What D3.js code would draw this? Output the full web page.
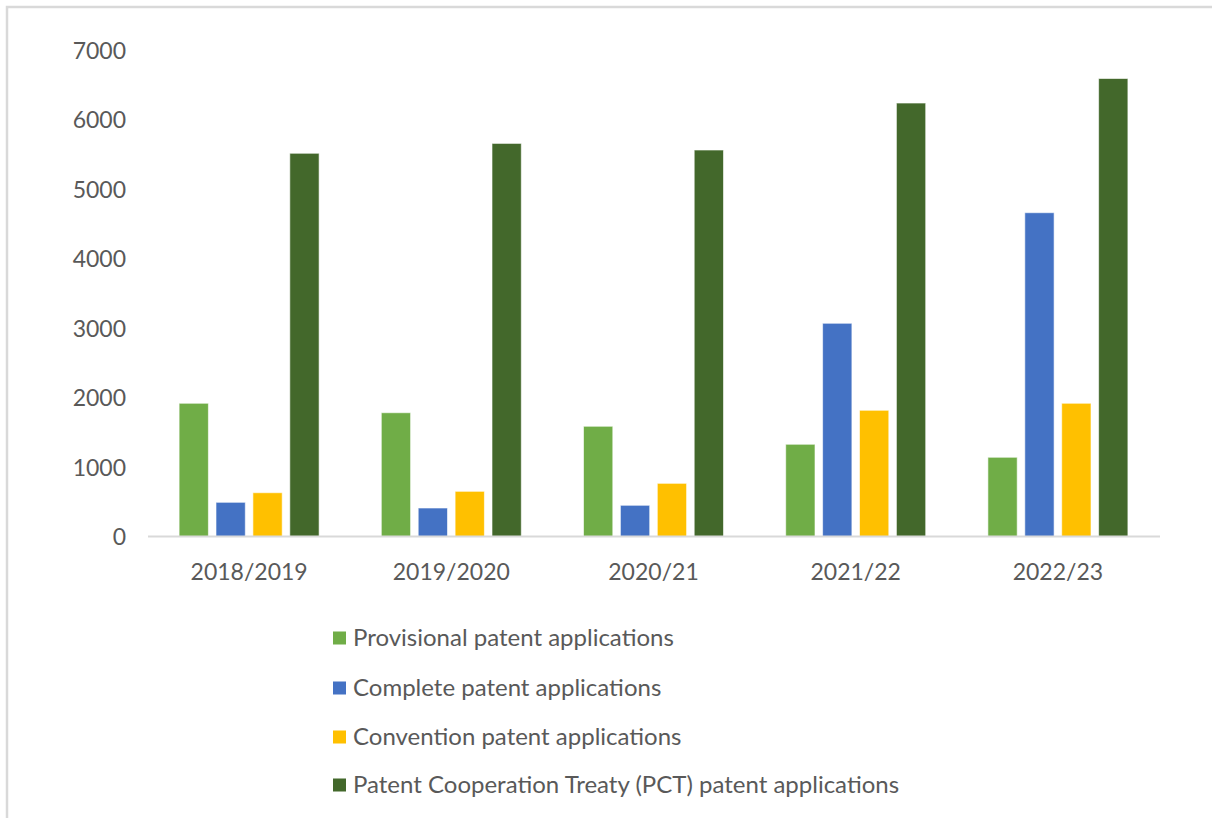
<!DOCTYPE html>
<html>
<head>
<meta charset="utf-8">
<script src="https://cdn.jsdelivr.net/npm/d3@7/dist/d3.min.js"></script>
<style>
  html, body { margin: 0; padding: 0; background: #fff; }
  svg { display: block; }
  text { font-family: Lato, "Open Sans", sans-serif; fill: #595959; }
</style>
</head>
<body>
<svg id="chart" width="1212" height="818"></svg>
<script>
const categories = ["2018/2019", "2019/2020", "2020/21", "2021/22", "2022/23"];
const seriesNames = [
  "Provisional patent applications",
  "Complete patent applications",
  "Convention patent applications",
  "Patent Cooperation Treaty (PCT) patent applications"
];
const provisional = [1917, 1781, 1586, 1327, 1140];
const complete    = [492, 410, 449, 3068, 4659];
const convention  = [630, 650, 765, 1816, 1917];
const pct         = [5514, 5656, 5561, 6237, 6590];
const yTicks = [0, 1000, 2000, 3000, 4000, 5000, 6000, 7000];
const colors = ["#70AD47", "#4472C4", "#FFC000", "#43682B"];

const seriesValues = [provisional, complete, convention, pct];

const svg = d3.select("#chart");

// outer chart border (top and left visible)
svg.append("rect")
  .attr("x", 7).attr("y", 7)
  .attr("width", 1400).attr("height", 1000)
  .attr("fill", "none")
  .attr("stroke", "#D9D9D9")
  .attr("stroke-width", 2.5);

const plotLeft = 148, plotRight = 1159, baseY = 536.5, topY = 50;

const x0 = d3.scaleBand()
  .domain(categories)
  .range([plotLeft, plotRight])
  .paddingInner(0.3076)
  .paddingOuter(0.1538);

const x1 = d3.scaleBand()
  .domain(seriesNames)
  .range([0, x0.bandwidth()])
  .paddingInner(0.206)
  .paddingOuter(0);

const y = d3.scaleLinear().domain([0, 7000]).range([baseY, topY]);

// y tick labels
const yAxis = d3.axisLeft(y).tickValues(yTicks).tickSize(0).tickPadding(0).tickFormat(d3.format("d"));
const gy = svg.append("g").attr("transform", "translate(126,0)").call(yAxis);
gy.select(".domain").remove();
gy.selectAll("text")
  .attr("font-size", 23)
  .style("font-family", "Lato, 'Open Sans', sans-serif")
  .attr("fill", "#595959")
  .attr("dy", "0.35em");

// bars
const groups = svg.append("g").selectAll("g")
  .data(categories)
  .join("g")
  .attr("transform", d => `translate(${x0(d)},0)`);

groups.selectAll("rect")
  .data((c, i) => seriesNames.map((s, k) => ({ s, k, v: seriesValues[k][i] })))
  .join("rect")
  .attr("x", d => x1(d.s))
  .attr("y", d => y(d.v))
  .attr("width", x1.bandwidth())
  .attr("height", d => baseY - y(d.v))
  .attr("fill", d => colors[d.k])
  .attr("stroke", "#ffffff")
  .attr("stroke-opacity", 0.6)
  .attr("stroke-width", 1);

// x axis
const xAxis = d3.axisBottom(x0).tickSize(0).tickPadding(0);
const gx = svg.append("g").attr("transform", `translate(0,${baseY})`).call(xAxis);
gx.select(".domain")
  .attr("stroke", "#D9D9D9")
  .attr("stroke-width", 2)
  .attr("d", `M${plotLeft},0H${plotRight + 1}`);
gx.selectAll("text")
  .attr("font-size", 23)
  .style("font-family", "Lato, 'Open Sans', sans-serif")
  .attr("fill", "#595959")
  .attr("y", 35)
  .attr("dy", "0.35em");

// legend
const legendY = [638, 688, 737, 785];
const legend = svg.append("g").selectAll("g")
  .data(seriesNames)
  .join("g")
  .attr("transform", (d, i) => `translate(333,${legendY[i]})`);
legend.append("rect")
  .attr("x", 0).attr("y", -6.5)
  .attr("width", 13).attr("height", 13)
  .attr("fill", (d, i) => colors[i]);
legend.append("text")
  .attr("x", 20).attr("y", 0).attr("dy", "0.35em")
  .attr("font-size", 24)
  .text(d => d);
</script>
</body>
</html>
